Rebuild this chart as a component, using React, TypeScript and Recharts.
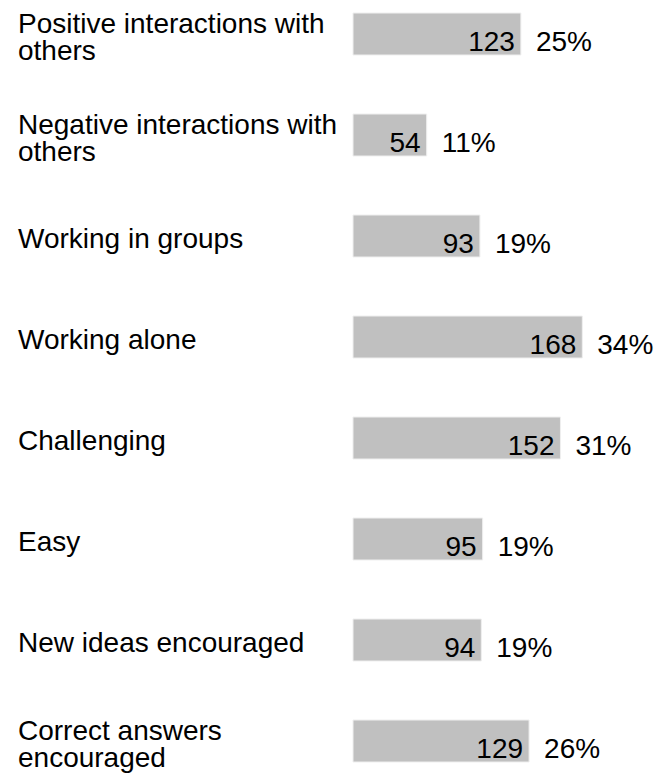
import { BarChart, Bar, XAxis, YAxis, LabelList } from "recharts";

const FONT = '"Liberation Sans", Arial, Helvetica, sans-serif';
const FONT_SIZE = 28;
const LINE_H = 27;
const WRAP_W = 345;

const categories = [
  "Positive interactions with others",
  "Negative interactions with others",
  "Working in groups",
  "Working alone",
  "Challenging",
  "Easy",
  "New ideas encouraged",
  "Correct answers encouraged",
];
const counts = [123, 54, 93, 168, 152, 95, 94, 129];
const percents = [25, 11, 19, 34, 31, 19, 19, 26];

const data = categories.map((name, i) => ({ name, count: counts[i], pct: percents[i] }));

let ctx: CanvasRenderingContext2D | null = null;
function measure(s: string) {
  if (!ctx) {
    ctx = document.createElement("canvas").getContext("2d");
    if (ctx) ctx.font = `${FONT_SIZE}px ${FONT}`;
  }
  return ctx ? ctx.measureText(s).width : s.length * FONT_SIZE * 0.5;
}

// greedy word wrap, the axis has no wrapping of its own that we can rely on
function wrap(label: string) {
  const lines: string[] = [];
  let cur = "";
  for (const w of label.split(" ")) {
    const next = cur ? cur + " " + w : w;
    if (cur && measure(next) > WRAP_W) {
      lines.push(cur);
      cur = w;
    } else cur = next;
  }
  if (cur) lines.push(cur);
  return lines;
}

function CategoryTick(props: any) {
  const { y, payload } = props;
  const lines = wrap(String(payload.value));
  const first = y - ((lines.length - 1) / 2) * LINE_H + FONT_SIZE * 0.358 + 2.5;
  return (
    <text x={18} y={first} fontSize={FONT_SIZE} fontFamily={FONT} fill="#000" textAnchor="start">
      {lines.map((l, i) => (
        <tspan key={i} x={18} y={first + i * LINE_H}>
          {l}
        </tspan>
      ))}
    </text>
  );
}

function CountLabel(props: any) {
  const { x, y, width, height, value } = props;
  return (
    <text
      x={x + width - 6}
      y={y + height / 2 + 16.5}
      textAnchor="end"
      fontSize={FONT_SIZE}
      fontFamily={FONT}
      fill="#000"
    >
      {value}
    </text>
  );
}

function PctLabel(props: any) {
  const { x, y, width, height, value } = props;
  return (
    <text
      x={x + width + 15}
      y={y + height / 2 + 16.5}
      textAnchor="start"
      fontSize={FONT_SIZE}
      fontFamily={FONT}
      fill="#000"
    >
      {value}%
    </text>
  );
}

export default function App() {
  return (
    <div style={{ position: "absolute", left: 0, top: -17 }}>
      <BarChart
        width={656}
        height={808}
        data={data}
        layout="vertical"
        margin={{ top: 0, right: 0, bottom: 0, left: 0 }}
      >
        <XAxis type="number" domain={[0, 222]} hide />
        <YAxis
          type="category"
          dataKey="name"
          width={353}
          axisLine={false}
          tickLine={false}
          interval={0}
          tick={<CategoryTick />}
        />
        <Bar
          dataKey="count"
          fill="#c0c0c0"
          stroke="#efefef"
          strokeWidth={1}
          barSize={42}
          isAnimationActive={false}
        >
          <LabelList dataKey="count" content={<CountLabel />} />
          <LabelList dataKey="pct" content={<PctLabel />} />
        </Bar>
      </BarChart>
    </div>
  );
}
